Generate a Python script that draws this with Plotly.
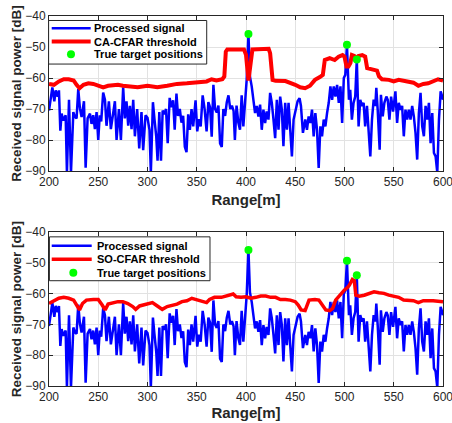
import plotly.graph_objects as go
from plotly.subplots import make_subplots

# ---------------- data ----------------
signal_range_m = [
    200, 202, 203.4, 205.4, 206.8, 208.8, 210.1, 211.5, 212.8, 214.5, 216.9, 218.2, 220.3, 222.3,
    224.7, 226.4, 228, 229.7, 231.4, 233.1, 235.5, 237.2, 239.2, 241.6, 243.2, 244.9, 246.6, 248.3,
    250, 251.5, 253, 255, 256.8, 258.4, 260.8, 262.8, 265.2, 266.9, 268.6, 271, 273, 275.3, 277,
    278.7, 280.4, 282.1, 283.8, 285.5, 287.2, 289.5, 291.6, 293.9, 295.6, 298, 300,
    302, 303.4, 305.5, 307, 308.9, 310.2, 312, 313.7, 315.4, 317, 318.8, 320.5, 322.5, 324.2, 326,
    327.6, 329.4, 331, 332.8, 334.5, 336.2, 337.9, 339.6, 341.3, 343, 344.7, 346.4, 348.8, 350.5,
    352.2, 354, 356, 358, 360, 361.8, 363.5, 365.2, 366.9, 368.6, 370.3, 372, 373.7, 375.4, 377,
    378.8, 380.5, 382.2, 384, 385.7, 387.4, 388.7, 390.4, 392.2, 393.9, 395.6, 397.3, 399, 400.7,
    402.5, 404, 405.8, 407.5, 409.2, 410.9, 412.6, 414.3, 416, 417.7, 419.4, 421, 422.8, 424.5,
    426.2, 427.9, 429.6, 431.3, 433, 434.7, 436.4, 438, 439.8, 441.5, 443.2, 444.9, 446.6, 448.3,
    450, 452.4, 454.4, 455.8, 457.8, 460.2, 461.9, 463.6, 465.3, 467, 468.7, 470.4, 472.1, 473.8,
    475.5, 477.2, 478.9, 480.6, 482.3, 484, 485.7, 487.4, 489.1, 490.8, 492.5, 494.2, 495.9, 497.6,
    499.3, 500.8, 502.5, 503.5, 504.5, 505.8, 507.5, 509.2, 510.9, 512.5, 514.3, 516, 517.7, 519.4,
    521, 522.8, 524.5, 526.2, 527.9, 529.6, 531.3, 532.3, 533.7, 535.7, 537, 538.8, 540.5, 542.5,
    543.9, 545.6, 547.3, 549.3, 551.7, 553.4, 555.1, 556.8, 558.5, 560.2, 561.9, 563.6, 565.3, 567,
    568.7, 570.4, 572.1, 573.8, 575.5, 577.2, 578.9, 580.6, 582.3, 584, 585.7, 587.4, 589.1, 590.8,
    592.5, 594.2, 595.9, 597.6, 599.3, 600,
]
signal_power_db = [
    -70.5, -66, -63, -67.5, -64, -66, -64, -77, -71.5, -73.7, -72, -90.5, -67, -90.5,
    -71, -72.6, -73, -63.6, -69.8, -72.6, -67.5, -88.9, -73, -71.5, -74.8, -72, -76.5, -71,
    -80, -72, -74, -64.7, -67, -75.4, -67.5, -76.5, -72, -67.5, -80, -70, -80, -63, -73,
    -67.5, -75.4, -69, -76.5, -67, -78.8, -70, -82.7, -71, -83.3, -72, -72.8,
    -76.7, -90.5, -67.8, -73, -79, -86.7, -71, -86.7, -70.5, -71.7, -70, -81, -66.4, -69.4, -67.2,
    -76.7, -65, -72.2, -70, -74.4, -72.2, -82.2, -83.9, -71.7, -76.7, -70, -75.6, -67.2, -77.2,
    -73.3, -75.6, -65.6, -70, -77.2, -67.8, -69.4, -78.9, -62.2, -70, -71.1, -68.9, -81.1, -82.2, -70,
    -72.2, -67.8, -65.6, -70, -68.9, -70.6, -80, -68.9, -74.4, -76.7, -65.6, -75.6, -69, -60.5,
    -45.8, -59.5, -62.7, -68, -71.3, -69, -72.4, -68.6, -76.7, -70.2, -74.5, -70.8, -73.4, -64.8,
    -68, -73.4, -79.4, -67, -76.7, -66, -70.2, -82, -68, -76.7, -68, -76.7, -85.3, -73.4,
    -71.3, -67.5, -66.5, -69, -77.7, -73.4, -76.7, -72.4, -74.5, -70.2, -78.8, -71.3, -76.7, -89,
    -75.6, -78.8, -73.4, -75.6, -71.3, -68, -62.7, -67, -62.7, -66, -62.2, -68, -62.7, -74.5,
    -60, -59, -49.3, -59.5, -67, -63.8, -73.4, -68, -66, -54, -75.6, -67, -69, -68,
    -75.6, -69, -76.7, -85.3, -73.4, -67, -69, -63.2, -70.2, -83.1, -65.4, -72.4, -68, -66,
    -67, -73.4, -66, -70.8, -64.3, -74.5, -68, -70.2, -69, -78.8, -70.2, -73.4, -70.2, -73.4,
    -69, -72.4, -77.7, -86.3, -71.3, -64.8, -75.6, -78.8, -69, -73.4, -68, -81, -71.3, -84.2,
    -85.3, -90.5, -73.4, -64.3, -66, -67,
]

ca_range_m = [
    200, 205, 210, 215, 220, 225, 228, 231, 235, 240, 245, 250, 255, 260, 265, 270, 275, 280,
    290, 300, 310, 320, 330, 340, 350, 360, 365, 370, 376, 378, 379.5, 381, 398, 400, 402.5,
    405, 406.5, 423, 424.5, 427, 430, 440, 445, 450, 455, 460, 465, 470, 475, 478, 480, 485,
    490, 494, 498, 500, 502, 504, 506, 507.5, 510, 512, 514, 518, 521, 523, 528, 533, 535,
    538, 545, 550, 555, 560, 565, 570, 575, 580, 585, 590, 595, 600,
]
ca_threshold_db = [
    -61.9, -62.2, -61.1, -60.4, -60.4, -60.8, -62.2, -63.3, -62.2, -61.7, -61.9, -62.5, -63,
    -62.5, -62.3, -62.2, -62.5, -62.7, -63, -62.5, -63, -62.5, -61.9, -61.7, -61.5, -61.1,
    -60.4, -60.8, -60.4, -59.5, -51.5, -50.8, -50.8, -52.5, -60.8, -52.5, -50.8, -50.6, -52,
    -60.6, -60.9, -61, -61.5, -62.2, -63, -63.3, -62.5, -60.6, -59.7, -59, -54.2, -53.6,
    -54.2, -53.1, -52.6, -53.1, -56.3, -56.3, -55.2, -52.6, -52.9, -53.6, -52.9, -52.6,
    -53.1, -56.8, -57.2, -57.6, -59.5, -60.4, -60.6, -61.1, -60.6, -60.8, -61.1, -61.5,
    -62.5, -61.9, -61.7, -61.1, -60.4, -60.8,
]

so_range_m = [
    200, 205, 210, 215, 220, 225, 228, 231, 234, 238, 245, 250, 254, 257, 260, 265, 270, 275,
    280, 285, 288, 292, 300, 305, 310, 315, 320, 325, 330, 335, 340, 345, 350, 355, 360, 363,
    368, 375, 380, 387, 390, 395, 400, 405, 410, 415, 420, 425, 430, 435, 440, 445, 450, 453,
    456, 460, 464, 470, 474, 478, 481, 485, 488, 491, 495, 500, 503, 505, 508, 510, 511.5,
    515, 520, 525, 530, 535, 540, 545, 550, 555, 560, 565, 570, 575, 580, 590, 600,
]
so_threshold_db = [
    -63.2, -62.3, -61.5, -61.2, -61.5, -62.1, -63.7, -65.3, -63.2, -62.1, -61.9, -61.9, -63.7,
    -65.3, -63.4, -62.9, -62.6, -62.6, -63.2, -64.2, -65.1, -64, -63.4, -62.9, -64, -65.1,
    -64.2, -63.7, -63.4, -62.6, -62.3, -61.5, -61.9, -62.3, -62.9, -61.9, -61.2, -61.2, -60.8,
    -60.1, -61, -61.2, -61, -61.5, -61.2, -60.8, -60.8, -61.2, -61.2, -61.9, -61.9, -62.1,
    -62.6, -63.7, -65.3, -65.5, -62.1, -61.9, -62.1, -63.7, -65.3, -65.5, -64.8, -62.1, -60.5,
    -58.8, -58, -57.2, -55.4, -55.8, -60.5, -60.8, -60.5, -59.9, -59.4, -59.7, -59.9, -60.5,
    -60.8, -61.2, -62.1, -62.3, -62.3, -62.9, -62.3, -62.3, -62.6,
]

target_range_m = [402.5, 502.5, 512.5]
target_power_db = [-45.8, -49.3, -54.0]

x_ticks = [200, 250, 300, 350, 400, 450, 500, 550, 600]
y_ticks = [-90, -80, -70, -60, -50, -40]

legend_labels = ["Processed signal", "True target positions"]
threshold_labels = ["CA-CFAR threshold", "SO-CFAR threshold"]
thresholds = [(ca_range_m, ca_threshold_db, 4), (so_range_m, so_threshold_db, 3.5)]

# ---------------- figure ----------------
FONT = "Liberation Sans, Arial, Helvetica, sans-serif"
INK = "#262626"
BLUE, RED, GREEN = "#0000FF", "#FF0000", "#00FF00"

fig = make_subplots(rows=2, cols=1)

for i in range(2):
    row = i + 1
    fig.add_trace(go.Scatter(x=signal_range_m, y=signal_power_db, mode="lines",
                             line=dict(color=BLUE, width=2.5),
                             name=legend_labels[0], showlegend=False), row=row, col=1)
    tx, ty, tw = thresholds[i]
    fig.add_trace(go.Scatter(x=tx, y=ty, mode="lines",
                             line=dict(color=RED, width=tw),
                             name=threshold_labels[i], showlegend=False), row=row, col=1)
    fig.add_trace(go.Scatter(x=target_range_m, y=target_power_db, mode="markers",
                             marker=dict(color=GREEN, size=8, line=dict(width=0)),
                             name=legend_labels[1], showlegend=False, cliponaxis=False),
                  row=row, col=1)

axis_common = dict(
    showline=True, linecolor=INK, linewidth=1, mirror="ticks",
    ticks="inside", ticklen=4, tickcolor=INK, automargin=False,
    showgrid=True, gridcolor="#e2e2e2", gridwidth=1, zeroline=False,
    tickfont=dict(family=FONT, size=12, color=INK),
)

for i in range(2):
    fig.update_xaxes(range=[200, 600], tickvals=x_ticks, ticklabeloverflow="allow",
                     title=dict(text="<b>Range[m]</b>", font=dict(family=FONT, size=15, color=INK),
                                standoff=6 if i == 0 else 2),
                     row=i + 1, col=1, **axis_common)
    fig.update_yaxes(range=[-90, -40], tickvals=y_ticks, ticklabeloverflow="allow",
                     title=dict(text="<b>Received signal power [dB]</b>",
                                font=dict(family=FONT, size=13.5, color=INK), standoff=0),
                     row=i + 1, col=1, **axis_common)

# ---- MATLAB-style legend boxes (drawn in axis-domain coordinates) ----
legend_geom = [
    dict(box=(-0.001, 0.4003, 0.690, 0.971), rows=(0.921, 0.835, 0.753),
         line=(0.0069, 0.1058), dot=0.0558, text=0.1124, ax=""),
    dict(box=(0.001, 0.4086, 0.684, 0.969), rows=(0.911, 0.823, 0.736),
         line=(0.0069, 0.1084), dot=0.0617, text=0.1193, ax="2"),
]
shapes, annotations = [], []
for i, g in enumerate(legend_geom):
    xr, yr = "x%s domain" % g["ax"], "y%s domain" % g["ax"]
    bx0, bx1, by0, by1 = g["box"]
    shapes.append(dict(type="rect", xref=xr, yref=yr, x0=bx0, x1=bx1, y0=by0, y1=by1,
                       fillcolor="white", line=dict(color=INK, width=1), layer="above"))
    for r, (col, w) in enumerate([(BLUE, 2.5), (RED, thresholds[i][2])]):
        shapes.append(dict(type="line", xref=xr, yref=yr, x0=g["line"][0], x1=g["line"][1],
                           y0=g["rows"][r], y1=g["rows"][r], line=dict(color=col, width=w),
                           layer="above"))
    shapes.append(dict(type="circle", xref=xr, yref=yr, xsizemode="pixel", ysizemode="pixel",
                       xanchor=g["dot"], yanchor=g["rows"][2], x0=-4, x1=4, y0=-4, y1=4,
                       fillcolor=GREEN, line=dict(width=0), layer="above"))
    texts = [legend_labels[0], threshold_labels[i], legend_labels[1]]
    for r, t in enumerate(texts):
        annotations.append(dict(xref=xr, yref=yr, x=g["text"], y=g["rows"][r],
                                text="<b>%s</b>" % t, showarrow=False, xanchor="left",
                                yanchor="middle", borderpad=0,
                                font=dict(family=FONT, size=11, color="black")))

fig.update_layout(
    width=452, height=423,
    margin=dict(l=49, r=9, t=16, b=37),
    paper_bgcolor="white", plot_bgcolor="white",
    xaxis=dict(domain=[0, 1]), yaxis=dict(domain=[0.581, 1.0]),
    xaxis2=dict(domain=[0, 1]), yaxis2=dict(domain=[0.0, 0.416]),
    showlegend=False,
    shapes=shapes, annotations=annotations,
)

fig.write_html("out.html", config={"displayModeBar": False},
               post_script="document.body.style.margin='0';document.body.style.overflow='hidden';")
